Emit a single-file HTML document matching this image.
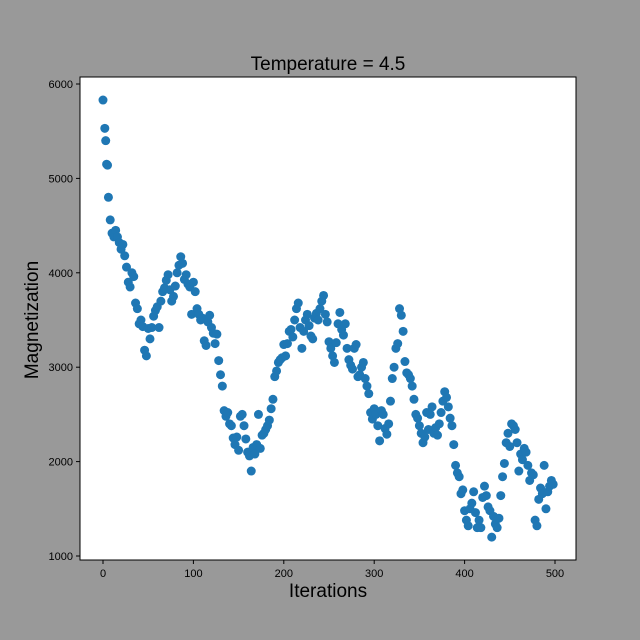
<!DOCTYPE html>
<html><head><meta charset="utf-8"><style>
html,body{margin:0;padding:0;width:640px;height:640px;overflow:hidden;background:#999999;font-family:"Liberation Sans","DejaVu Sans",sans-serif}
svg{display:block}
</style></head><body>
<svg id="chart" width="640" height="640" xmlns="http://www.w3.org/2000/svg">
<rect x="0" y="0" width="640" height="640" fill="#999999"/>
<rect x="80" y="77" width="496" height="483" fill="#ffffff"/>
<text x="328" y="70" font-size="19" text-anchor="middle" fill="#000">Temperature = 4.5</text>
<text x="328" y="597" font-size="19" text-anchor="middle" fill="#000">Iterations</text>
<text transform="translate(38,320) rotate(-90)" font-size="19" text-anchor="middle" fill="#000">Magnetization</text>
<g id="marks"></g>
<g id="axes"></g>
</svg>
<script>
const xTicks=[0,100,200,300,400,500];
const yTicks=[1000,2000,3000,4000,5000,6000];
const iterations=[0,2,3,4,5,6,8,10,12,14,16,18,20,22,24,26,28,30,32,34,36,38,40,42,44,46,48,50,52,54,56,58,60,62,64,66,68,70,72,74,76,78,80,82,84,86,88,90,92,94,96,98,100,102,104,106,108,110,112,114,116,118,120,122,124,126,128,130,132,134,136,138,140,142,144,146,148,150,152,154,156,158,160,162,164,166,168,170,172,174,176,178,180,182,184,186,188,190,192,194,196,198,200,202,204,206,208,210,212,214,216,218,220,222,224,226,228,230,232,234,236,238,240,242,244,246,248,250,252,254,256,258,260,262,264,266,268,270,272,274,276,278,280,282,284,286,288,290,292,294,296,298,300,302,304,306,308,310,312,314,316,318,320,322,324,326,328,330,332,334,336,338,340,342,344,346,348,350,352,354,356,358,360,362,364,366,368,370,372,374,376,378,380,382,384,386,388,390,392,394,396,398,400,402,404,406,408,410,412,414,416,418,420,422,424,426,428,430,432,434,436,438,440,442,444,446,448,450,452,454,456,458,460,462,464,466,468,470,472,474,476,478,480,482,484,486,488,490,492,494,496,498];
const magnetization=[5830,5530,5400,5150,5140,4800,4560,4420,4380,4450,4380,4320,4250,4300,4180,4060,3900,3850,4000,3960,3680,3620,3460,3500,3430,3180,3120,3410,3300,3420,3540,3600,3640,3420,3700,3800,3840,3920,3980,3820,3700,3750,3860,4000,4080,4170,4100,3930,3980,3880,3850,3560,3900,3800,3620,3560,3500,3520,3280,3230,3480,3550,3420,3360,3250,3350,3070,2920,2800,2540,2480,2520,2400,2380,2250,2180,2260,2120,2480,2500,2380,2240,2100,2060,1900,2150,2080,2180,2500,2140,2280,2300,2340,2380,2440,2560,2660,2900,2960,3050,3080,3100,3240,3120,3250,3380,3400,3320,3500,3620,3680,3420,3200,3380,3500,3560,3440,3330,3300,3520,3570,3500,3620,3700,3760,3560,3480,3270,3200,3120,3050,3260,3460,3580,3400,3340,3460,3200,3080,3020,2980,3200,3240,2900,2920,3000,3050,2880,2800,2720,2520,2450,2560,2500,2380,2220,2540,2500,2350,2290,2400,2640,2880,3000,3200,3250,3620,3550,3380,3060,2940,2920,2880,2800,2660,2500,2460,2380,2300,2200,2260,2520,2340,2500,2580,2300,2360,2280,2400,2520,2640,2740,2680,2580,2460,2380,2180,1960,1880,1840,1660,1700,1480,1380,1320,1500,1560,1680,1460,1300,1380,1300,1620,1740,1640,1520,1480,1200,1420,1340,1300,1400,1640,1840,1980,2200,2300,2160,2400,2380,2340,2200,1900,2080,2020,2140,2100,1960,1800,1880,1860,1380,1320,1600,1720,1660,1960,1500,1680,1740,1800,1760];
const NS="http://www.w3.org/2000/svg";
function xs(v){return 103+(v-0)*(555-103)/500;}
function ys(v){return 556-(v-1000)*(556-84)/5000;}
const marks=document.getElementById('marks');
for(let i=0;i<iterations.length;i++){
  const c=document.createElementNS(NS,'circle');
  c.setAttribute('cx',xs(iterations[i]));c.setAttribute('cy',ys(magnetization[i]));
  c.setAttribute('r',4.5);c.setAttribute('fill','#1f77b4');
  
  
  marks.appendChild(c);
}
const axes=document.getElementById('axes');
const frame=document.createElementNS(NS,'rect');
frame.setAttribute('x',80);frame.setAttribute('y',77);frame.setAttribute('width',496);frame.setAttribute('height',483);
frame.setAttribute('fill','none');frame.setAttribute('stroke','#000');frame.setAttribute('stroke-width','1');


axes.appendChild(frame);
xTicks.forEach(t=>{
  const l=document.createElementNS(NS,'line');
  l.setAttribute('x1',xs(t));l.setAttribute('x2',xs(t));l.setAttribute('y1',560);l.setAttribute('y2',564);l.setAttribute('stroke','#000');
  
  
  axes.appendChild(l);
  const tx=document.createElementNS(NS,'text');
  tx.setAttribute('x',xs(t));tx.setAttribute('y',577);tx.setAttribute('font-size','11');tx.setAttribute('text-anchor','middle');
  tx.textContent=t;
  
  
  axes.appendChild(tx);
});
yTicks.forEach(t=>{
  const l=document.createElementNS(NS,'line');
  l.setAttribute('x1',76);l.setAttribute('x2',80);l.setAttribute('y1',ys(t));l.setAttribute('y2',ys(t));l.setAttribute('stroke','#000');
  
  
  axes.appendChild(l);
  const tx=document.createElementNS(NS,'text');
  tx.setAttribute('x',73);tx.setAttribute('y',ys(t)+4);tx.setAttribute('font-size','11');tx.setAttribute('text-anchor','end');
  tx.textContent=t;
  
  
  axes.appendChild(tx);
});
</script>
</body></html>
